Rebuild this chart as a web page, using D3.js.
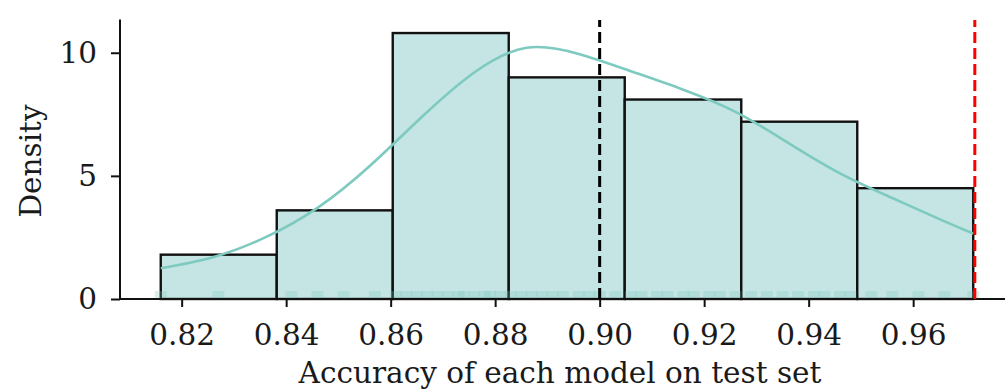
<!DOCTYPE html>
<html>
<head>
<meta charset="utf-8">
<script src="https://cdn.jsdelivr.net/npm/d3@7"></script>
<style>
  html, body { margin: 0; padding: 0; background: #fff; }
  svg { display: block; }
  text { font-family: "DejaVu Serif", serif; fill: #1a1a1a; }
</style>
</head>
<body>
<svg id="chart" width="1005" height="391"></svg>
<script>
// ---- data ----
const binEdges = [0.816, 0.8382, 0.8604, 0.8826, 0.9048, 0.9271, 0.9493, 0.9715];
const densities = [1.80, 3.60, 10.80, 9.00, 8.10, 7.20, 4.50];
const kdeX = [0.816, 0.826, 0.836, 0.846, 0.856, 0.866, 0.876, 0.886, 0.896, 0.906, 0.916, 0.926, 0.936, 0.946, 0.956, 0.966, 0.9715];
const kdeY = [1.25, 1.70, 2.50, 3.70, 5.40, 7.40, 9.20, 10.20, 9.95, 9.25, 8.50, 7.60, 6.35, 5.10, 4.10, 3.15, 2.66];
const rugValues = [0.816, 0.827, 0.841, 0.846, 0.851, 0.857, 0.861, 0.863, 0.865, 0.867, 0.869, 0.871, 0.873, 0.874, 0.876, 0.878, 0.879, 0.881,
  0.883, 0.885, 0.887, 0.889, 0.891, 0.893, 0.896, 0.898, 0.900, 0.903, 0.906, 0.908, 0.911, 0.913, 0.916, 0.918, 0.921, 0.923, 0.926,
  0.929, 0.932, 0.935, 0.938, 0.941, 0.943, 0.946, 0.948, 0.952, 0.956, 0.961, 0.966, 0.9715];
const xTicks = [0.82, 0.84, 0.86, 0.88, 0.90, 0.92, 0.94, 0.96];
const yTicks = [0, 5, 10];
const meanLine = 0.90;
const bestLine = 0.9718;
const xLabel = "Accuracy of each model on test set";
const yLabel = "Density";

// ---- layout ----
const svg = d3.select("#chart");
const x = d3.scaleLinear().domain([0.8082, 0.9793]).range([120, 1014]);
const y = d3.scaleLinear().domain([0, 11.35]).range([299, 19.5]);

const fillColor = "#c4e5e3";
const lineColor = "#7ecac0";
const fontSize = 29.5;

// bars
const bars = densities.map((d, i) => ({ x0: binEdges[i], x1: binEdges[i + 1], d }));
svg.append("g").selectAll("rect").data(bars).join("rect")
  .attr("x", b => x(b.x0))
  .attr("width", b => x(b.x1) - x(b.x0))
  .attr("y", b => y(b.d))
  .attr("height", b => y(0) - y(b.d))
  .attr("fill", fillColor)
  .attr("stroke", "#111")
  .attr("stroke-width", 2.4);

// rug
svg.append("g").selectAll("line").data(rugValues).join("line")
  .attr("x1", v => x(v)).attr("x2", v => x(v))
  .attr("y1", y(0)).attr("y2", y(0) - 8)
  .attr("stroke", lineColor)
  .attr("stroke-opacity", 0.28)
  .attr("stroke-width", 12);

// kde
const kde = kdeX.map((v, i) => [v, kdeY[i]]);
svg.append("path").datum(kde)
  .attr("fill", "none")
  .attr("stroke", lineColor)
  .attr("stroke-width", 2.6)
  .attr("d", d3.line().x(d => x(d[0])).y(d => y(d[1])).curve(d3.curveNatural));

// axes
const xAxis = svg.append("g").attr("transform", `translate(0,${y(0)})`)
  .call(d3.axisBottom(x).tickValues(xTicks).tickFormat(d3.format(".2f")).tickSize(8).tickPadding(17).tickSizeOuter(0));
const yAxis = svg.append("g").attr("transform", `translate(${x.range()[0]},0)`)
  .call(d3.axisLeft(y).tickValues(yTicks).tickSize(9).tickPadding(14).tickSizeOuter(0));
[xAxis, yAxis].forEach(g => {
  g.select(".domain").attr("stroke", "#111").attr("stroke-width", 2);
  g.selectAll(".tick line").attr("stroke", "#111").attr("stroke-width", 2);
  g.selectAll(".tick text").attr("font-family", "DejaVu Serif").attr("font-size", fontSize).attr("fill", "#1a1a1a");
});
xAxis.select(".domain").attr("d", `M${x.range()[0]},0H${x.range()[1]}`);
yAxis.select(".domain").attr("d", `M0,${y(0)}V${y.range()[1]}`);

// reference lines
svg.append("line")
  .attr("x1", x(meanLine)).attr("x2", x(meanLine))
  .attr("y1", y(0)).attr("y2", 20)
  .attr("stroke", "#000").attr("stroke-width", 3)
  .attr("stroke-dasharray", "11,5");
svg.append("line")
  .attr("x1", x(bestLine)).attr("x2", x(bestLine))
  .attr("y1", y(0)).attr("y2", 20)
  .attr("stroke", "#ff0000").attr("stroke-width", 3)
  .attr("stroke-dasharray", "11,5");

// labels
svg.append("text")
  .attr("x", 560).attr("y", 383)
  .attr("text-anchor", "middle")
  .attr("font-size", fontSize)
  .text(xLabel);
svg.append("text")
  .attr("transform", `translate(41,161) rotate(-90)`)
  .attr("text-anchor", "middle")
  .attr("font-size", fontSize)
  .text(yLabel);
</script>
</body>
</html>
